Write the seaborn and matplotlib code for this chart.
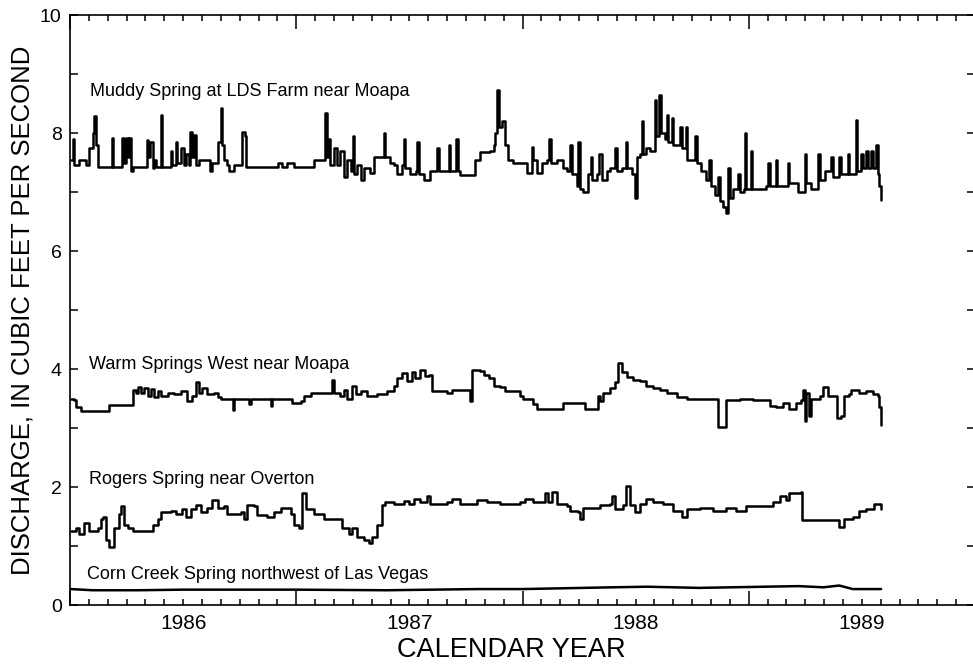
import numpy as np
import pandas as pd
import matplotlib
matplotlib.use("Agg")
import matplotlib.pyplot as plt
import matplotlib.transforms as mtransforms
import seaborn as sns

# ---------------- data (time in years since 1 Jan 1986, discharge in ft3/s) ----------------
muddy_t = [0.004, 0.012, 0.018, 0.040, 0.071, 0.085, 0.100, 0.107, 0.115, 0.122, 0.181, 0.185, 0.191,
           0.232, 0.240, 0.247, 0.255, 0.262, 0.269, 0.277, 0.335, 0.340, 0.345, 0.354, 0.365, 0.372,
           0.379, 0.398, 0.401, 0.406, 0.438, 0.446, 0.453, 0.468, 0.475, 0.490, 0.502, 0.512, 0.526,
           0.531, 0.538, 0.548, 0.556, 0.570, 0.607, 0.618, 0.629, 0.652, 0.656, 0.666, 0.674, 0.681,
           0.696, 0.703, 0.725, 0.754, 0.759, 0.773, 0.778, 0.916, 0.919, 0.938, 0.960, 0.989, 1.071,
           1.078, 1.126, 1.129, 1.134, 1.144, 1.151, 1.166, 1.181, 1.195, 1.210, 1.225, 1.240, 1.250,
           1.257, 1.269, 1.284, 1.298, 1.328, 1.342, 1.384, 1.386, 1.394, 1.416, 1.431, 1.446, 1.468,
           1.475, 1.482, 1.504, 1.531, 1.534, 1.541, 1.563, 1.592, 1.622, 1.629, 1.673, 1.681, 1.707,
           1.713, 1.725, 1.783, 1.791, 1.813, 1.857, 1.872, 1.879, 1.887, 1.894, 1.909, 1.923, 1.938,
           1.960, 2.004, 2.019, 2.041, 2.048, 2.063, 2.085, 2.107, 2.119, 2.125, 2.151, 2.180, 2.195,
           2.210, 2.217, 2.240, 2.247, 2.254, 2.269, 2.291, 2.301, 2.308, 2.328, 2.338, 2.350, 2.372,
           2.386, 2.408, 2.416, 2.438, 2.457, 2.464, 2.482, 2.497, 2.504, 2.519, 2.526, 2.533, 2.548,
           2.563, 2.585, 2.592, 2.604, 2.611, 2.629, 2.637, 2.644, 2.659, 2.666, 2.681, 2.695, 2.703,
           2.722, 2.729, 2.754, 2.764, 2.772, 2.791, 2.813, 2.824, 2.832, 2.850, 2.864, 2.872, 2.886,
           2.901, 2.908, 2.916, 2.930, 2.952, 2.960, 2.979, 2.983, 2.989, 3.008, 3.014, 3.063, 3.077,
           3.085, 3.092, 3.119, 3.126, 3.166, 3.173, 3.180, 3.217, 3.247, 3.254, 3.276, 3.305, 3.313,
           3.335, 3.364, 3.371, 3.401, 3.408, 3.438, 3.445, 3.472, 3.477, 3.497, 3.504, 3.519, 3.526,
           3.541, 3.548, 3.563, 3.570, 3.577, 3.585]
muddy_q = [7.54, 7.9, 7.45, 7.54, 7.45, 7.75, 8.0, 8.28, 7.8, 7.43, 7.43, 7.92, 7.43,
           7.92, 7.5, 7.92, 7.6, 7.92, 7.35, 7.43, 7.43, 7.88, 7.6, 7.85, 7.4, 7.55,
           7.43, 7.43, 8.31, 7.43, 7.43, 7.7, 7.45, 7.85, 7.5, 7.75, 7.45, 7.65, 7.45,
           8.02, 7.6, 7.97, 7.45, 7.55, 7.55, 7.35, 7.5, 7.5, 7.85, 8.42, 7.8, 7.55,
           7.45, 7.35, 7.45, 7.45, 8.02, 7.95, 7.43, 7.43, 7.5, 7.43, 7.5, 7.43, 7.43,
           7.55, 7.55, 8.34, 7.6, 7.9, 7.45, 7.75, 7.45, 7.7, 7.25, 7.55, 7.35, 7.95,
           7.3, 7.45, 7.2, 7.4, 7.33, 7.6, 7.6, 8.0, 7.6, 7.5, 7.45, 7.3, 7.45,
           7.9, 7.4, 7.3, 7.35, 7.85, 7.3, 7.2, 7.35, 7.75, 7.35, 7.8, 7.35, 7.9,
           7.35, 7.29, 7.29, 7.55, 7.68, 7.7, 7.8, 8.0, 8.73, 8.1, 8.2, 7.8, 7.54,
           7.5, 7.5, 7.32, 7.77, 7.55, 7.32, 7.5, 7.55, 7.9, 7.5, 7.55, 7.4, 7.35,
           7.8, 7.3, 7.1, 7.85, 7.05, 7.0, 7.3, 7.6, 7.2, 7.3, 7.65, 7.2, 7.35,
           7.4, 7.75, 7.35, 7.4, 7.85, 7.4, 7.3, 6.9, 7.6, 7.65, 8.2, 7.65, 7.75,
           7.7, 8.56, 7.95, 8.64, 8.0, 7.9, 8.3, 7.85, 8.25, 7.8, 7.8, 8.1, 7.75,
           8.1, 7.55, 7.55, 7.95, 7.5, 7.35, 7.2, 7.55, 7.1, 6.95, 7.25, 6.85, 6.75,
           6.64, 7.4, 6.9, 7.05, 7.3, 7.0, 7.05, 8.0, 7.05, 7.7, 7.05, 7.05, 7.1,
           7.5, 7.1, 7.55, 7.1, 7.1, 7.5, 7.15, 7.0, 7.65, 7.15, 7.05, 7.65, 7.2,
           7.35, 7.6, 7.25, 7.6, 7.3, 7.65, 7.3, 8.22, 7.35, 7.65, 7.4, 7.7, 7.4,
           7.7, 7.4, 7.8, 7.3, 7.1, 6.86]

warm_t = [0.004, 0.019, 0.026, 0.049, 0.166, 0.173, 0.247, 0.277, 0.291, 0.299, 0.313, 0.328, 0.343,
          0.357, 0.372, 0.387, 0.401, 0.431, 0.460, 0.490, 0.519, 0.541, 0.556, 0.570, 0.585, 0.607,
          0.637, 0.652, 0.666, 0.718, 0.720, 0.725, 0.784, 0.791, 0.798, 0.887, 0.890, 0.894, 0.975,
          0.982, 1.019, 1.034, 1.056, 1.063, 1.151, 1.159, 1.166, 1.195, 1.210, 1.225, 1.247, 1.262,
          1.284, 1.313, 1.357, 1.401, 1.431, 1.446, 1.468, 1.490, 1.512, 1.526, 1.548, 1.570, 1.585,
          1.600, 1.666, 1.688, 1.761, 1.769, 1.776, 1.813, 1.828, 1.850, 1.872, 1.901, 1.923, 1.989,
          2.004, 2.034, 2.048, 2.063, 2.173, 2.180, 2.269, 2.276, 2.328, 2.335, 2.342, 2.357, 2.386,
          2.408, 2.423, 2.438, 2.460, 2.489, 2.519, 2.548, 2.577, 2.607, 2.637, 2.681, 2.725, 2.783,
          2.857, 2.864, 2.889, 2.901, 2.960, 3.019, 3.063, 3.092, 3.122, 3.151, 3.180, 3.210, 3.232,
          3.239, 3.247, 3.254, 3.266, 3.276, 3.313, 3.327, 3.349, 3.379, 3.389, 3.408, 3.419, 3.445,
          3.452, 3.489, 3.519, 3.548, 3.570, 3.577, 3.585]
warm_q = [3.5, 3.47, 3.35, 3.29, 3.29, 3.39, 3.39, 3.64, 3.6, 3.7, 3.59, 3.68, 3.55,
          3.66, 3.52, 3.62, 3.55, 3.6, 3.57, 3.62, 3.45, 3.55, 3.78, 3.6, 3.68, 3.57,
          3.6, 3.52, 3.5, 3.5, 3.3, 3.5, 3.5, 3.4, 3.5, 3.5, 3.38, 3.5, 3.5,
          3.42, 3.45, 3.55, 3.55, 3.6, 3.6, 3.81, 3.6, 3.55, 3.65, 3.5, 3.72, 3.58,
          3.62, 3.55, 3.57, 3.62, 3.72, 3.85, 3.93, 3.8, 3.95, 3.85, 3.99, 3.88, 3.9,
          3.62, 3.6, 3.64, 3.64, 3.45, 3.99, 3.97, 3.9, 3.85, 3.72, 3.7, 3.62, 3.55,
          3.5, 3.5, 3.4, 3.32, 3.32, 3.43, 3.43, 3.32, 3.32, 3.55, 3.45, 3.6, 3.68,
          3.78, 4.1, 3.95, 3.87, 3.82, 3.8, 3.72, 3.68, 3.65, 3.6, 3.52, 3.5, 3.5,
          3.5, 3.02, 3.02, 3.47, 3.5, 3.47, 3.47, 3.38, 3.35, 3.42, 3.32, 3.42, 3.47,
          3.65, 3.12, 3.6, 3.2, 3.5, 3.55, 3.7, 3.55, 3.55, 3.17, 3.2, 3.55, 3.58,
          3.65, 3.6, 3.62, 3.58, 3.55, 3.35, 3.05]

rogers_t = [0.004, 0.026, 0.041, 0.063, 0.085, 0.122, 0.137, 0.144, 0.159, 0.173, 0.195, 0.217, 0.225,
            0.240, 0.255, 0.277, 0.343, 0.365, 0.387, 0.401, 0.446, 0.468, 0.497, 0.512, 0.534, 0.556,
            0.578, 0.607, 0.629, 0.652, 0.681, 0.696, 0.754, 0.769, 0.784, 0.813, 0.828, 0.872, 0.901,
            0.931, 0.975, 0.989, 1.011, 1.026, 1.041, 1.078, 1.122, 1.181, 1.203, 1.232, 1.247, 1.269,
            1.298, 1.320, 1.335, 1.357, 1.379, 1.394, 1.431, 1.475, 1.497, 1.519, 1.548, 1.578, 1.592,
            1.666, 1.688, 1.725, 1.798, 1.843, 1.901, 1.989, 2.011, 2.048, 2.085, 2.100, 2.114, 2.129,
            2.151, 2.195, 2.210, 2.247, 2.254, 2.269, 2.313, 2.342, 2.386, 2.394, 2.408, 2.445, 2.457,
            2.475, 2.497, 2.519, 2.548, 2.577, 2.622, 2.666, 2.703, 2.725, 2.783, 2.842, 2.901, 2.945,
            2.989, 3.077, 3.107, 3.136, 3.166, 3.180, 3.232, 3.236, 3.371, 3.401, 3.423, 3.460, 3.489,
            3.519, 3.555, 3.585]
rogers_q = [1.25, 1.3, 1.2, 1.39, 1.25, 1.3, 1.45, 1.5, 1.1, 0.99, 1.3, 1.55, 1.67,
            1.35, 1.3, 1.25, 1.25, 1.35, 1.45, 1.58, 1.6, 1.55, 1.62, 1.5, 1.62, 1.7,
            1.58, 1.65, 1.78, 1.65, 1.68, 1.55, 1.58, 1.45, 1.7, 1.68, 1.52, 1.5, 1.58,
            1.65, 1.55, 1.35, 1.3, 1.89, 1.62, 1.55, 1.45, 1.45, 1.3, 1.2, 1.3, 1.15,
            1.1, 1.05, 1.15, 1.35, 1.7, 1.74, 1.72, 1.77, 1.72, 1.8, 1.74, 1.85, 1.72,
            1.74, 1.79, 1.72, 1.78, 1.74, 1.72, 1.74, 1.8, 1.74, 1.74, 1.9, 1.74, 1.92,
            1.72, 1.68, 1.6, 1.58, 1.45, 1.65, 1.65, 1.7, 1.72, 1.85, 1.62, 1.7, 2.01,
            1.7, 1.58, 1.72, 1.8, 1.74, 1.72, 1.6, 1.5, 1.62, 1.65, 1.6, 1.65, 1.6,
            1.68, 1.68, 1.75, 1.85, 1.78, 1.9, 1.92, 1.44, 1.44, 1.33, 1.45, 1.5, 1.6,
            1.62, 1.72, 1.62]

corn_t = [0.004, 0.1, 0.3, 0.5, 1.0, 1.4, 1.8, 2.0, 2.40, 2.55, 2.78, 3.07, 3.22, 3.33, 3.40, 3.46, 3.585]
corn_q = [0.27, 0.25, 0.25, 0.26, 0.26, 0.25, 0.27, 0.27, 0.30, 0.31, 0.29, 0.31, 0.32, 0.30, 0.33, 0.27, 0.27]

start_year = 1986
year_labels = ["1986", "1987", "1988", "1989"]
series_names = ["Muddy Spring at LDS Farm near Moapa",
                "Warm Springs West near Moapa",
                "Rogers Spring near Overton",
                "Corn Creek Spring northwest of Las Vegas"]
series_steps = ["steps-post", "steps-post", "steps-post", "default"]
label_pos = [(0.09, 8.70), (0.085, 4.07), (0.085, 2.12), (0.075, 0.51)]

# ---------------- figure ----------------
sns.set_theme(style="ticks")
plt.rcParams["font.family"] = ["Liberation Sans", "DejaVu Sans"]

W, H = 973, 668
fig = plt.figure(figsize=(W / 100, H / 100), dpi=100)
ax = fig.add_axes([70 / W, 63 / H, 905 / W, 590 / H])

frames = []
for name, t, q in zip(series_names,
                      [muddy_t, warm_t, rogers_t, corn_t],
                      [muddy_q, warm_q, rogers_q, corn_q]):
    frames.append(pd.DataFrame({"year": start_year + np.asarray(t),
                                "cfs": q, "station": name}))
df = pd.concat(frames, ignore_index=True)

for name, ds in zip(series_names, series_steps):
    sns.lineplot(data=df[df.station == name], x="year", y="cfs", estimator=None,
                 sort=False, color="black", lw=1.8, drawstyle=ds,
                 ax=ax, legend=False)

for name, (tx, ty) in zip(series_names, label_pos):
    ax.text(start_year + tx, ty, name, fontsize=13, va="center", ha="left", color="black")

ax.set_xlim(start_year, start_year + 4)
ax.set_ylim(0, 10)

# ticks
ax.set_xticks(np.arange(start_year, start_year + 5, 1.0))
ax.set_xticks(np.arange(start_year, start_year + 4, 1 / 12), minor=True)
ax.set_xticklabels([])
ax.set_yticks(np.arange(0, 11, 2))
ax.set_yticks(np.arange(1, 10, 2), minor=True)
ax.set_yticklabels([str(v) for v in range(0, 11, 2)])

ax.tick_params(axis="x", which="major", direction="in", length=10, width=1.1,
               top=True, bottom=True, color="black")
ax.tick_params(axis="x", which="minor", direction="in", length=4.5, width=1.1,
               top=True, bottom=True, color="black")
ax.tick_params(axis="y", which="both", direction="in", length=5.5, width=1.1,
               left=True, right=True, color="black", labelsize=14, pad=6,
               labelcolor="black")

for side in ["left", "bottom", "top"]:
    ax.spines[side].set_color("black")
    ax.spines[side].set_linewidth(1.2)
ax.spines["right"].set_visible(False)

# year labels centred in each calendar year
trans = mtransforms.blended_transform_factory(ax.transData, ax.transAxes)
for i, lab in enumerate(year_labels):
    ax.text(start_year + i + 0.5, -0.016, lab, transform=trans, ha="center", va="top",
            fontsize=15, color="black")

ax.set_xlabel("")
ax.set_ylabel("")
fig.text(511 / W, 1 - 650 / H, "CALENDAR YEAR", ha="center", va="center",
         fontsize=19.5, color="black")
fig.text(23 / W, 1 - 310 / H, "DISCHARGE, IN CUBIC FEET PER SECOND", ha="center",
         va="center", rotation=90, fontsize=18.5, color="black")

fig.savefig("out.png", dpi=100, facecolor="white")
